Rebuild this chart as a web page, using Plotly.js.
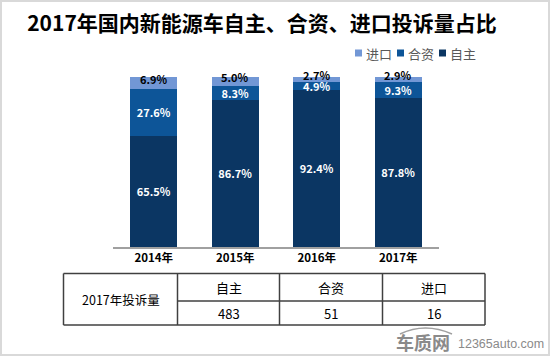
<!DOCTYPE html>
<html>
<head>
<meta charset="utf-8">
<script src="https://cdn.plot.ly/plotly-3.0.1.min.js"></script>
<style>
html,body{margin:0;padding:0;background:#fff;}
#wrap{position:relative;width:550px;height:356px;}
#chart{width:550px;height:356px;}
#frame{position:absolute;left:0;top:0;width:550px;height:356px;box-sizing:border-box;border:2px solid #d9d9d9;pointer-events:none;}
</style>
</head>
<body>
<div id="wrap"><div id="chart"></div><div id="frame"></div></div>
<script>
// ---- data ----
const years = ['2014年', '2015年', '2016年', '2017年'];
const seriesNames = ['自主', '合资', '进口'];
const ziZhu = [65.5, 86.7, 92.4, 87.8];
const heZi  = [27.6, 8.3, 4.9, 9.3];
const jinKou = [6.9, 5.0, 2.7, 2.9];
const seriesColors = ['#0b3663', '#0d5598', '#7297d5'];
const labelColors = ['#ffffff', '#ffffff', '#000000'];
const tableLabel = '2017年投诉量';
const tableHeads = ['自主', '合资', '进口'];
const tableCounts = [483, 51, 16];

const seriesValues = [ziZhu, heZi, jinKou];
const FONT = '"Noto Sans CJK SC", "Noto Sans", sans-serif';

// plot area in pixels
const L = 113, R = 439, T = 77, B = 247;
const px = x => (x - L) / (R - L);
const py = y => (B - y) / (B - T);

const traces = seriesValues.map((vals, i) => ({
  type: 'bar',
  name: seriesNames[i],
  x: years,
  y: vals,
  marker: {color: seriesColors[i], line: {width: 0}},
  text: i < 2 ? vals.map(v => v.toFixed(1) + '%') : undefined,
  textposition: i < 2 ? 'inside' : 'none',
  insidetextanchor: 'middle',
  textangle: 0,
  textfont: {family: FONT, size: 11, color: labelColors[i], weight: 'bold'},
  hoverinfo: 'skip',
  showlegend: false
}));

const shapes = [];
const annotations = [];

// labels of the thin top segment (进口), placed through the data axes
jinKou.forEach((v, k) => {
  annotations.push({xref: 'x', yref: 'y', x: years[k], y: ziZhu[k] + heZi[k] + v / 2,
    yshift: 4, showarrow: false, xanchor: 'center', yanchor: 'middle', borderpad: 0,
    text: v.toFixed(1) + '%',
    font: {family: FONT, size: 11, color: labelColors[2], weight: 'bold'}});
});

// legend (manual, compact)
const legendOrder = [2, 1, 0];
const legendX = [355, 397, 439];
legendOrder.forEach((si, k) => {
  shapes.push({type: 'rect', xref: 'paper', yref: 'paper',
    x0: px(legendX[k]), x1: px(legendX[k] + 7), y0: py(56.5), y1: py(49.5),
    fillcolor: seriesColors[si], line: {width: 0}});
  annotations.push({xref: 'paper', yref: 'paper', x: px(legendX[k] + 8.5), y: py(53),
    xanchor: 'left', yanchor: 'middle', showarrow: false, text: seriesNames[si],
    font: {family: FONT, size: 13, color: '#595959'}});
});

// table grid
const tL = 63.5, tR = 485, tT = 273.5, tM = 301, tB = 325;
const cols = [177.5, 279.5, 382.5];
const lineStyle = {color: '#404040', width: 1.5};
const hline = (y, x0, x1) => shapes.push({type: 'line', xref: 'paper', yref: 'paper',
  x0: px(x0), x1: px(x1), y0: py(y), y1: py(y), line: lineStyle});
const vline = (x, y0, y1) => shapes.push({type: 'line', xref: 'paper', yref: 'paper',
  x0: px(x), x1: px(x), y0: py(y0), y1: py(y1), line: lineStyle});
hline(tT, tL, tR); hline(tB, tL, tR); hline(tM, cols[0], tR);
vline(tL, tT, tB); vline(tR, tT, tB);
cols.forEach(c => vline(c, tT, tB));

annotations.push({xref: 'paper', yref: 'paper', x: px((tL + cols[0]) / 2), y: py((tT + tB) / 2),
  xanchor: 'center', yanchor: 'middle', showarrow: false, text: tableLabel,
  font: {family: FONT, size: 12.5, color: '#000'}});
const colEdges = [cols[0], cols[1], cols[2], tR];
tableHeads.forEach((h, i) => {
  const cx = (colEdges[i] + colEdges[i + 1]) / 2;
  annotations.push({xref: 'paper', yref: 'paper', x: px(cx), y: py((tT + tM) / 2),
    xanchor: 'center', yanchor: 'middle', showarrow: false, text: h,
    font: {family: FONT, size: 13, color: '#000'}});
  annotations.push({xref: 'paper', yref: 'paper', x: px(cx), y: py((tM + tB) / 2),
    xanchor: 'center', yanchor: 'middle', showarrow: false, text: String(tableCounts[i]),
    font: {family: FONT, size: 13, color: '#000'}});
});

// watermark
annotations.push({xref: 'paper', yref: 'paper', x: px(394), y: py(342),
  xanchor: 'left', yanchor: 'middle', showarrow: false, text: '<b>车质网</b>',
  font: {family: FONT, size: 18, color: '#8a8a8a'}});
annotations.push({xref: 'paper', yref: 'paper', x: px(456), y: py(344),
  xanchor: 'left', yanchor: 'middle', showarrow: false, text: '12365auto.com',
  font: {family: '"Liberation Sans", Arial, sans-serif', size: 12.5, color: '#8a8a8a'}});
shapes.push({type: 'path', xref: 'paper', yref: 'paper',
  path: `M ${px(400)} ${py(334)} Q ${px(425)} ${py(322)} ${px(452)} ${py(334)}`,
  line: {color: '#a0a0a0', width: 1.5}});

const layout = {
  width: 550, height: 356,
  margin: {l: L, r: 550 - R, t: T, b: 356 - B, pad: 0},
  paper_bgcolor: '#ffffff', plot_bgcolor: '#ffffff',
  barmode: 'stack',
  bargap: 0.42,
  uniformtext: {mode: 'show', minsize: 11},
  title: {text: '2017年国内新能源车自主、合资、进口投诉量占比',
    x: 262 / 550, xref: 'container', xanchor: 'center',
    y: 1 - 24 / 356, yref: 'container', yanchor: 'middle',
    font: {family: FONT, size: 21, color: '#000', weight: 'bold'}},
  xaxis: {type: 'category', showline: true, linecolor: '#a0a0a0', linewidth: 1.5,
    ticks: '', showgrid: false, zeroline: false,
    tickfont: {family: FONT, size: 11.5, color: '#000', weight: 'bold'}},
  yaxis: {range: [0, 100], visible: false, showgrid: false, zeroline: false},
  showlegend: false,
  shapes: shapes,
  annotations: annotations,
  font: {family: FONT}
};

Plotly.newPlot('chart', traces, layout, {staticPlot: true, displayModeBar: false});
</script>
</body>
</html>
